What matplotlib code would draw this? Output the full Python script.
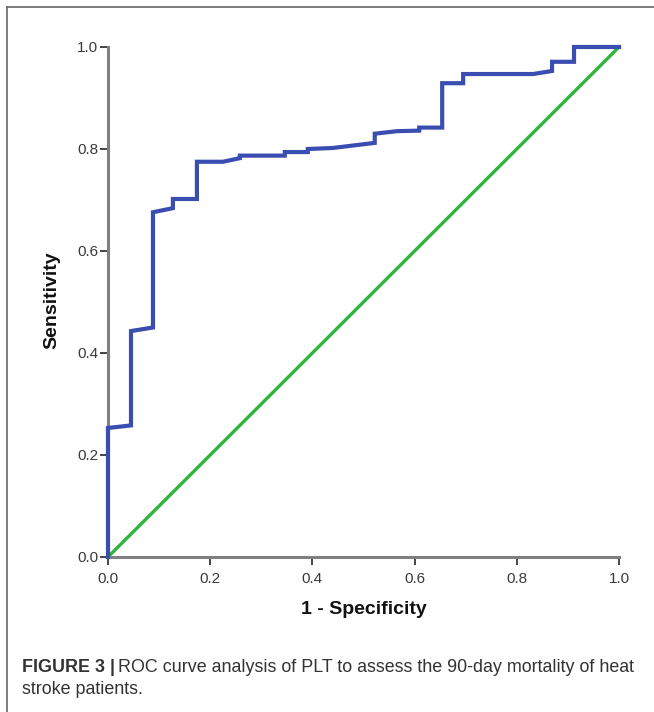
import matplotlib.pyplot as plt
from matplotlib.lines import Line2D

# ROC curve vertices
fpr = [0.0, 0.0, 0.045, 0.045, 0.088, 0.088, 0.127, 0.127, 0.174, 0.174, 0.225,
       0.258, 0.258, 0.346, 0.346, 0.391, 0.391, 0.440, 0.522, 0.522, 0.566,
       0.609, 0.609, 0.654, 0.654, 0.695, 0.695, 0.832, 0.869, 0.869, 0.912,
       0.912, 1.0]
tpr = [0.0, 0.253, 0.258, 0.443, 0.450, 0.676, 0.684, 0.702, 0.702, 0.775, 0.775,
       0.782, 0.787, 0.787, 0.794, 0.794, 0.800, 0.802, 0.812, 0.830, 0.835,
       0.836, 0.842, 0.842, 0.929, 0.929, 0.947, 0.947, 0.953, 0.971, 0.971,
       1.0, 1.0]
ref_line = [0.0, 1.0]
ticks = [0.0, 0.2, 0.4, 0.6, 0.8, 1.0]
tick_labels = ['0.0', '0.2', '0.4', '0.6', '0.8', '1.0']

plt.rcParams['font.family'] = ['Liberation Sans', 'DejaVu Sans']

fig = plt.figure(figsize=(6.54, 7.12), dpi=100)
fig.patch.set_facecolor('white')

ax = fig.add_axes([108 / 654, 1 - 557 / 712, 511 / 654, 510 / 712])
ax.plot(ref_line, ref_line, color='#2fb53c', lw=2.4, zorder=3, clip_on=False)
ax.plot(fpr, tpr, color='#3a4db0', lw=3.0, zorder=4, clip_on=False,
        solid_joinstyle='miter')

ax.set_xlim(0, 1)
ax.set_ylim(0, 1)
ax.set_xticks(ticks)
ax.set_xticklabels(tick_labels)
ax.set_yticks(ticks)
ax.set_yticklabels(tick_labels)

for s in ['top', 'right']:
    ax.spines[s].set_visible(False)
for s in ['left', 'bottom']:
    ax.spines[s].set_color('#808080')
    ax.spines[s].set_linewidth(2.2)
ax.tick_params(direction='out', length=6, width=1.4, color='#444444',
               labelsize=11, labelcolor='#3a3a3a')
ax.tick_params(axis='x', pad=5)
ax.tick_params(axis='y', pad=1)

fig.text(364 / 654, 1 - 610 / 712, '1 - Specificity', fontsize=14,
         fontweight='bold', ha='center', va='center', color='#111111')
fig.text(52 / 654, 1 - 300 / 712, 'Sensitivity', fontsize=14,
         fontweight='bold', ha='center', va='center', rotation=90,
         color='#111111')

# frame lines (left and top)
fig.add_artist(Line2D([7 / 654, 7 / 654], [0, 1 - 7 / 712],
                      transform=fig.transFigure, color='#666666', lw=1.2))
fig.add_artist(Line2D([7 / 654, 1], [1 - 7 / 712, 1 - 7 / 712],
                      transform=fig.transFigure, color='#666666', lw=1.2))

# caption
cap_y1 = 1 - 667 / 712
cap_y2 = 1 - 690 / 712
t = fig.text(22 / 654, cap_y1, 'FIGURE 3 |', fontsize=12.9, fontweight='bold',
             color='#333333', va='center')
fig.canvas.draw()
bb = t.get_window_extent()
fig.text((bb.x1 + 3) / 654, cap_y1,
         'ROC curve analysis of PLT to assess the 90-day mortality of heat',
         fontsize=12.9, color='#333333', va='center')
fig.text(22 / 654, cap_y2, 'stroke patients.', fontsize=12.9,
         color='#333333', va='center')

fig.savefig('out.png', dpi=100)
